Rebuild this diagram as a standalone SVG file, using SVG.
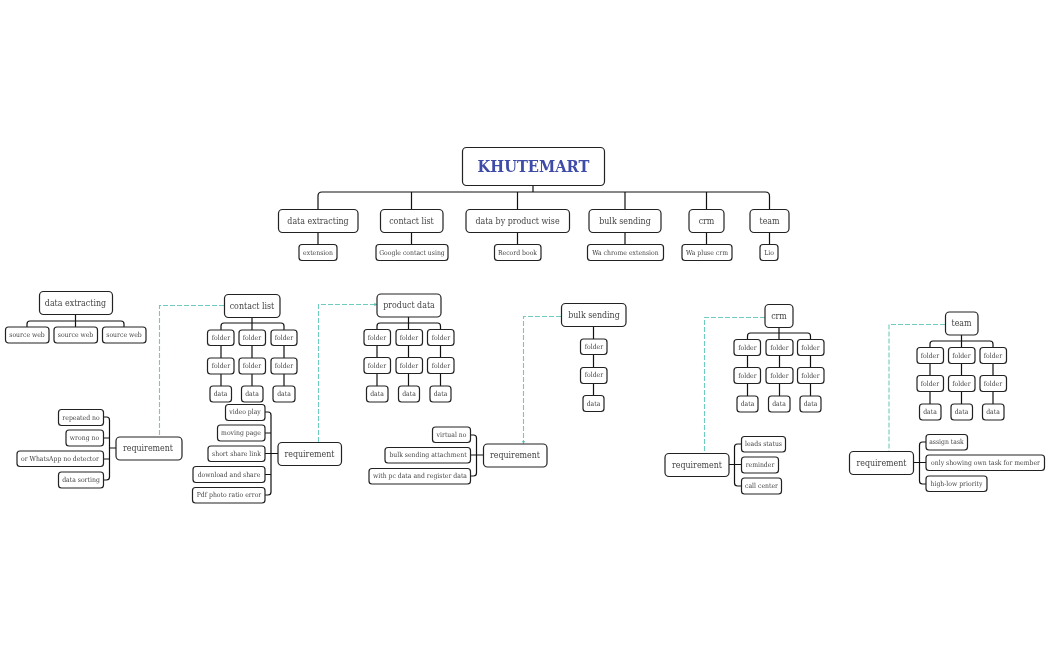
<svg xmlns="http://www.w3.org/2000/svg" width="1050" height="650" viewBox="0 0 1050 650">
<defs><marker id="a" viewBox="0 0 6 6" refX="5" refY="3" markerWidth="3" markerHeight="3" orient="auto"><path d="M0 0L6 3L0 6z" fill="#5fbfb3"/></marker>
<filter id="soft" x="0" y="0" width="1050" height="650" filterUnits="userSpaceOnUse" color-interpolation-filters="sRGB"><feGaussianBlur stdDeviation="0.28"/></filter></defs>
<style>
text{font-family:"DejaVu Serif Condensed","DejaVu Serif","Liberation Serif",serif;text-anchor:middle;dominant-baseline:central;fill:#444}
.n rect{fill:#fff;stroke:#222;stroke-width:1.2}
.l text{font-size:8.8px}.s text{font-size:6.8px}
#c path{fill:none;stroke:#111;stroke-width:1.2}
#c path.d{stroke:#6fcabf;stroke-dasharray:5 2;stroke-width:1.1}
</style>
<rect width="1050" height="650" fill="#fff"/>
<g filter="url(#soft)">
<g id="c">
<path d="M533 186V192M318 209V196Q318 192 322 192H765.500Q769.500 192 769.500 196V209M411.500 192V209M517.500 192V209M625 192V209M706.500 192V209M318 232V244M411.500 232V244M517.500 232V244M625 232V244M706.500 232V244M769.500 232V244"/>
<path d="M75.500 314V327M27 327V324Q27 321 30 321H121Q124 321 124 324V327"/>
<path d="M252 317V330M221 330V326Q221 323 224 323H281Q284 323 284 326V330M221 345V386M252 345V386M284 345V386"/>
<path d="M116 448H109.500M103.500 417H106.500Q109.500 417 109.500 420V477Q109.500 480 106.500 480H103.500M103.500 438H109.500M103.500 459H109.500"/>
<path d="M278 453.500H265M265 412H268Q271 412 271 415V492Q271 495 268 495H265M265 433H271M265 474.500H271"/>
<path d="M408.500 317V329M377 329V326Q377 323 380 323H437.500Q440.500 323 440.500 326V329M377 345V386M408.500 345V386M440.500 345V386"/>
<path d="M593.500 326V395.500"/>
<path d="M483.500 455H470.500M470.500 435H473.500Q476.500 435 476.500 438V473Q476.500 476 473.500 476H470.500"/>
<path d="M779 327V339.500M747.500 339.500V336Q747.500 333 750.500 333H807.500Q810.500 333 810.500 336V339.500M747.500 355V396M779.500 355V396M810.500 355V396"/>
<path d="M729 464.500H741.500M741.500 444H737.500Q734.500 444 734.500 447V483Q734.500 486 737.500 486H741.500"/>
<path d="M961.500 335V347.500M930 347.500V344Q930 341 933 341H990Q993 341 993 344V347.500M930 363V404M961.500 363V404M993 363V404"/>
<path d="M913.500 462.500H926M926 442H922.500Q919.500 442 919.500 445V481Q919.500 484 922.500 484H926"/>
<path class="d" d="M224 305.500H159.500V436"/>
<path class="d" d="M318.500 442V304.500H377" marker-end="url(#a)"/>
<path class="d" d="M561 316.500H523.500V443.500" marker-end="url(#a)"/>
<path class="d" d="M765 317.500H704.500V453"/>
<path class="d" d="M945 324.500H889V451"/>
</g>
<g id="root" class="n"><rect x="462.500" y="147.500" width="142" height="38" rx="4"/><text x="533.500" y="166.500" style="font-size:16.300px;font-weight:bold;fill:#3f4ba8">KHUTEMART</text></g>
<g id="t1" class="n l"><rect x="278.500" y="209.500" width="79.500" height="23" rx="4"/><text x="318" y="220.500">data extracting</text></g>
<g id="t2" class="n l"><rect x="380.500" y="209.500" width="62.500" height="23" rx="4"/><text x="411.500" y="220.500">contact list</text></g>
<g id="t3" class="n l"><rect x="466" y="209.500" width="103.500" height="23" rx="4"/><text x="517.500" y="220.500">data by product wise</text></g>
<g id="t4" class="n l"><rect x="589" y="209.500" width="72" height="23" rx="4"/><text x="625" y="220.500">bulk sending</text></g>
<g id="t5" class="n l"><rect x="689" y="209.500" width="35" height="23" rx="4"/><text x="706.500" y="220.500">crm</text></g>
<g id="t6" class="n l"><rect x="750" y="209.500" width="39" height="23" rx="4"/><text x="769.500" y="220.500">team</text></g>
<g id="t1a" class="n s"><rect x="299" y="244.500" width="38" height="16" rx="3"/><text x="318" y="252.500">extension</text></g>
<g id="t2a" class="n s"><rect x="376" y="244.500" width="72" height="16" rx="3"/><text x="412" y="252.500">Google contact using</text></g>
<g id="t3a" class="n s"><rect x="494.500" y="244.500" width="46.500" height="16" rx="3"/><text x="517.500" y="252.500">Record book</text></g>
<g id="t4a" class="n s"><rect x="587.500" y="244.500" width="76" height="16" rx="3"/><text x="625.500" y="252.500">Wa chrome extension</text></g>
<g id="t5a" class="n s"><rect x="682" y="244.500" width="50" height="16" rx="3"/><text x="707" y="252.500">Wa pluse crm</text></g>
<g id="t6a" class="n s"><rect x="760" y="244.500" width="18" height="16" rx="3"/><text x="769" y="252.500">Lio</text></g>

<g id="a0" class="n l"><rect x="39.500" y="291.500" width="73" height="23" rx="4"/><text x="75.500" y="302.500">data extracting</text></g>
<g id="a1" class="n s"><rect x="5.500" y="327" width="43.500" height="16" rx="3"/><text x="27" y="335">source web</text></g>
<g id="a2" class="n s"><rect x="54" y="327" width="43.500" height="16" rx="3"/><text x="75.500" y="335">source web</text></g>
<g id="a3" class="n s"><rect x="102.500" y="327" width="43.500" height="16" rx="3"/><text x="124" y="335">source web</text></g>
<g id="ar" class="n l"><rect x="116" y="437" width="66" height="23" rx="4"/><text x="148" y="448">requirement</text></g>
<g id="ar1" class="n s"><rect x="58.500" y="409.500" width="45" height="16" rx="3"/><text x="81" y="417.500">repeated no</text></g>
<g id="ar2" class="n s"><rect x="66" y="430" width="37.500" height="16" rx="3"/><text x="84.500" y="438">wrong no</text></g>
<g id="ar3" class="n s"><rect x="17" y="451" width="86.500" height="15.500" rx="3"/><text x="60" y="458.500">or WhatsApp no detector</text></g>
<g id="ar4" class="n s"><rect x="58.500" y="472" width="45" height="16" rx="3"/><text x="81" y="480">data sorting</text></g>

<g id="b0" class="n l"><rect x="224.500" y="294.500" width="55.500" height="23" rx="4"/><text x="252" y="305.500">contact list</text></g>
<g id="b1" class="n s"><rect x="207.500" y="330" width="26.500" height="15.500" rx="3"/><text x="221" y="337.500">folder</text></g>
<g id="b2" class="n s"><rect x="239" y="330" width="26.500" height="15.500" rx="3"/><text x="252" y="337.500">folder</text></g>
<g id="b3" class="n s"><rect x="271" y="330" width="26" height="15.500" rx="3"/><text x="284" y="337.500">folder</text></g>
<g id="b4" class="n s"><rect x="207.500" y="358" width="26.500" height="16" rx="3"/><text x="221" y="366">folder</text></g>
<g id="b5" class="n s"><rect x="239" y="358" width="26.500" height="16" rx="3"/><text x="252" y="366">folder</text></g>
<g id="b6" class="n s"><rect x="271" y="358" width="26" height="16" rx="3"/><text x="284" y="366">folder</text></g>
<g id="b7" class="n s"><rect x="210" y="386" width="21.500" height="16" rx="3"/><text x="220.500" y="394">data</text></g>
<g id="b8" class="n s"><rect x="241.500" y="386" width="21.500" height="16" rx="3"/><text x="252" y="394">data</text></g>
<g id="b9" class="n s"><rect x="273" y="386" width="22" height="16" rx="3"/><text x="284" y="394">data</text></g>
<g id="br" class="n l"><rect x="278" y="442.500" width="63.500" height="23" rx="4"/><text x="309.500" y="453.500">requirement</text></g>
<g id="br1" class="n s"><rect x="225.500" y="404.500" width="39.500" height="16" rx="3"/><text x="245" y="412">video play</text></g>
<g id="br2" class="n s"><rect x="217.500" y="425" width="47.500" height="16" rx="3"/><text x="241" y="433">moving page</text></g>
<g id="br3" class="n s"><rect x="208" y="446" width="57" height="15.500" rx="3"/><text x="236.500" y="453.500">short share link</text></g>
<g id="br4" class="n s"><rect x="193" y="466.500" width="72" height="16" rx="3"/><text x="229" y="474.500">download and share</text></g>
<g id="br5" class="n s"><rect x="192.500" y="487.500" width="72.500" height="15.500" rx="3"/><text x="229" y="495">Pdf photo ratio error</text></g>

<g id="c0" class="n l"><rect x="377" y="294" width="64" height="23" rx="4"/><text x="409" y="305">product data</text></g>
<g id="c1" class="n s"><rect x="364" y="329.500" width="26.500" height="16" rx="3"/><text x="377" y="337.500">folder</text></g>
<g id="c2" class="n s"><rect x="396" y="329.500" width="26.500" height="16" rx="3"/><text x="409" y="337.500">folder</text></g>
<g id="c3" class="n s"><rect x="427.500" y="329.500" width="26.500" height="16" rx="3"/><text x="441" y="337.500">folder</text></g>
<g id="c4" class="n s"><rect x="364" y="357.500" width="26.500" height="16" rx="3"/><text x="377" y="365.500">folder</text></g>
<g id="c5" class="n s"><rect x="396" y="357.500" width="26.500" height="16" rx="3"/><text x="409" y="365.500">folder</text></g>
<g id="c6" class="n s"><rect x="427.500" y="357.500" width="26.500" height="16" rx="3"/><text x="441" y="365.500">folder</text></g>
<g id="c7" class="n s"><rect x="366.500" y="386" width="21.500" height="16" rx="3"/><text x="377" y="394">data</text></g>
<g id="c8" class="n s"><rect x="398.500" y="386" width="21" height="16" rx="3"/><text x="409" y="394">data</text></g>
<g id="c9" class="n s"><rect x="430" y="386" width="21" height="16" rx="3"/><text x="440.500" y="394">data</text></g>

<g id="d0" class="n l"><rect x="561.500" y="303.500" width="64.500" height="23" rx="4"/><text x="594" y="314.500">bulk sending</text></g>
<g id="d1" class="n s"><rect x="580.500" y="339" width="26.500" height="15.500" rx="3"/><text x="594" y="346.500">folder</text></g>
<g id="d2" class="n s"><rect x="580.500" y="367.500" width="26.500" height="16" rx="3"/><text x="594" y="375">folder</text></g>
<g id="d3" class="n s"><rect x="583" y="395.500" width="21" height="16" rx="3"/><text x="593.500" y="403.500">data</text></g>
<g id="dr" class="n l"><rect x="483.500" y="444" width="63.500" height="23" rx="4"/><text x="515" y="455">requirement</text></g>
<g id="dr1" class="n s"><rect x="432.500" y="427" width="38" height="15.500" rx="3"/><text x="451.500" y="434.500">virtual no</text></g>
<g id="dr2" class="n s"><rect x="385" y="447.500" width="85.500" height="15.500" rx="3"/><text x="428" y="455">bulk sending attachment</text></g>
<g id="dr3" class="n s"><rect x="369" y="468.500" width="101.500" height="15.500" rx="3"/><text x="420" y="476">with pc data and register data</text></g>

<g id="e0" class="n l"><rect x="765" y="304.500" width="28" height="23" rx="4"/><text x="779" y="315.500">crm</text></g>
<g id="e1" class="n s"><rect x="734" y="339.500" width="26.500" height="16" rx="3"/><text x="747.500" y="347.500">folder</text></g>
<g id="e2" class="n s"><rect x="766" y="339.500" width="27" height="16" rx="3"/><text x="779.500" y="347.500">folder</text></g>
<g id="e3" class="n s"><rect x="797.500" y="339.500" width="26.500" height="16" rx="3"/><text x="810.500" y="347.500">folder</text></g>
<g id="e4" class="n s"><rect x="734" y="367.500" width="26.500" height="16" rx="3"/><text x="747.500" y="375.500">folder</text></g>
<g id="e5" class="n s"><rect x="766" y="367.500" width="27" height="16" rx="3"/><text x="779.500" y="375.500">folder</text></g>
<g id="e6" class="n s"><rect x="797.500" y="367.500" width="26.500" height="16" rx="3"/><text x="810.500" y="375.500">folder</text></g>
<g id="e7" class="n s"><rect x="737" y="396" width="21" height="16" rx="3"/><text x="747.500" y="404">data</text></g>
<g id="e8" class="n s"><rect x="768.500" y="396" width="21.500" height="16" rx="3"/><text x="779" y="404">data</text></g>
<g id="e9" class="n s"><rect x="800" y="396" width="21" height="16" rx="3"/><text x="810.500" y="404">data</text></g>
<g id="er" class="n l"><rect x="665" y="453.500" width="64" height="23" rx="4"/><text x="697" y="464.500">requirement</text></g>
<g id="er1" class="n s"><rect x="741.500" y="436.500" width="44" height="15.500" rx="3"/><text x="763.500" y="444">leads status</text></g>
<g id="er2" class="n s"><rect x="741.500" y="457" width="37" height="16" rx="3"/><text x="760" y="465">reminder</text></g>
<g id="er3" class="n s"><rect x="741.500" y="478" width="40" height="16" rx="3"/><text x="761.500" y="486">call center</text></g>

<g id="f0" class="n l"><rect x="945.500" y="312" width="32.500" height="23" rx="4"/><text x="961.500" y="323">team</text></g>
<g id="f1" class="n s"><rect x="917" y="347.500" width="26.500" height="16" rx="3"/><text x="930" y="355.500">folder</text></g>
<g id="f2" class="n s"><rect x="948.500" y="347.500" width="26.500" height="16" rx="3"/><text x="961.500" y="355.500">folder</text></g>
<g id="f3" class="n s"><rect x="980" y="347.500" width="26.500" height="16" rx="3"/><text x="993" y="355.500">folder</text></g>
<g id="f4" class="n s"><rect x="917" y="375.500" width="26.500" height="16" rx="3"/><text x="930" y="383.500">folder</text></g>
<g id="f5" class="n s"><rect x="948.500" y="375.500" width="26.500" height="16" rx="3"/><text x="961.500" y="383.500">folder</text></g>
<g id="f6" class="n s"><rect x="980" y="375.500" width="26.500" height="16" rx="3"/><text x="993" y="383.500">folder</text></g>
<g id="f7" class="n s"><rect x="919.500" y="404" width="21.500" height="16" rx="3"/><text x="930" y="412">data</text></g>
<g id="f8" class="n s"><rect x="951" y="404" width="21.500" height="16" rx="3"/><text x="961.500" y="412">data</text></g>
<g id="f9" class="n s"><rect x="982.500" y="404" width="21.500" height="16" rx="3"/><text x="993" y="412">data</text></g>
<g id="fr" class="n l"><rect x="849.500" y="451.500" width="64" height="23" rx="4"/><text x="881.500" y="462.500">requirement</text></g>
<g id="fr1" class="n s"><rect x="926" y="434.500" width="41.500" height="15.500" rx="3"/><text x="946.500" y="441.500">assign task</text></g>
<g id="fr2" class="n s"><rect x="926" y="455" width="118.500" height="15.500" rx="3"/><text x="985.500" y="462.500">only showing own task for member</text></g>
<g id="fr3" class="n s"><rect x="926" y="476" width="61" height="15.500" rx="3"/><text x="956.500" y="483.500">high-low priority</text></g>
</g>
</svg>
